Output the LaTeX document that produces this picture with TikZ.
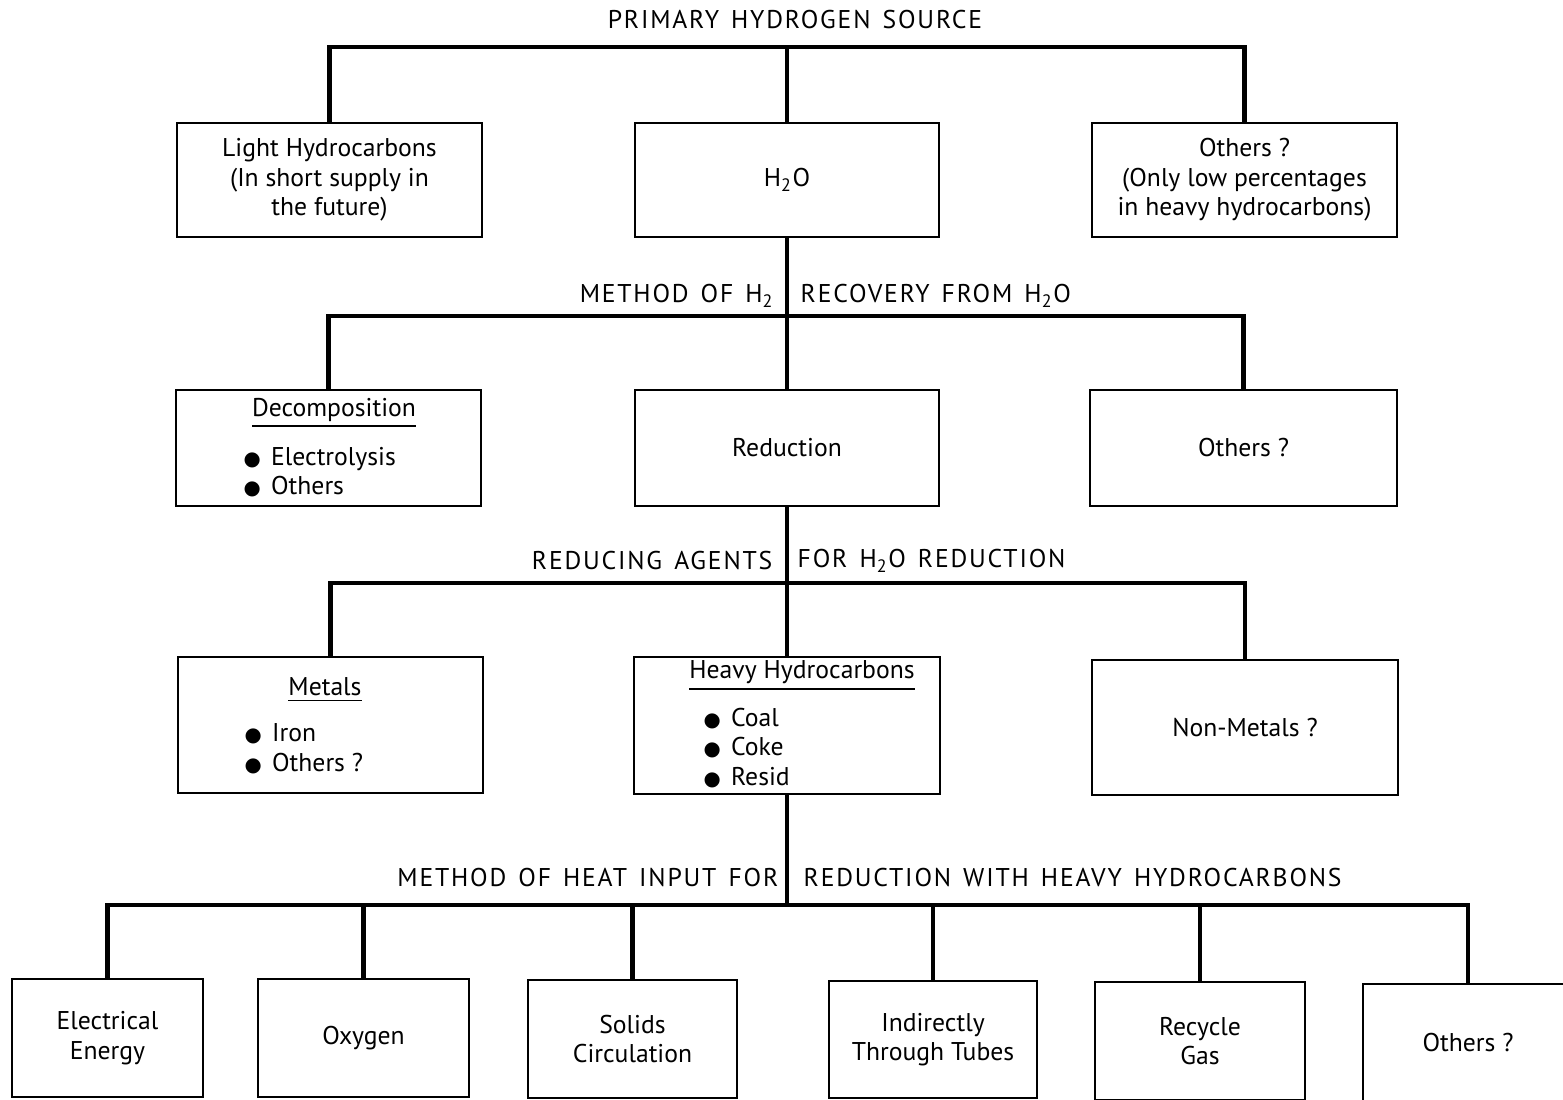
\documentclass[tikz,border=0pt]{standalone}
\usepackage{fontspec}
\setmainfont{PT Sans}
\newfontfamily\symfont{DejaVu Sans}
\newfontfamily\capfont[LetterSpace=7,WordSpace=1.4]{PT Sans}
\usetikzlibrary{positioning,calc}
\newcommand{\bul}{{\symfont\fontsize{5.6}{6}\selectfont ●}\hspace{0.4em}}
\newcommand{\hsub}{H\textsubscript{2}}

\begin{document}
\begin{tikzpicture}[
    x=0.01cm, y=-0.01cm,
    every node/.style={font=\fontsize{7.3}{8.4}\selectfont, inner sep=0pt},
    box/.style={draw, line width=0.6pt, align=center},
    bus/.style={line width=1.2pt},
    caption/.style={font=\capfont\fontsize{7.3}{8.4}\selectfont},
    items/.style={anchor=west, align=left}
]
    \clip (0,0) rectangle (1563,1100);

    % level 1
    \node[caption] (title) at (795,20) {PRIMARY HYDROGEN SOURCE};
    \node[box, minimum width=3.05cm, minimum height=1.14cm] (light) at (329.5,180) {Light Hydrocarbons\\(In short supply in\\the future)};
    \node[box, minimum width=3.03cm, minimum height=1.14cm] (h2o) at (787,180) {H\textsubscript{2}O};
    \node[box, minimum width=3.05cm, minimum height=1.14cm] (oth1) at (1244.5,180) {Others ?\\(Only low percentages\\in heavy hydrocarbons)};
    \coordinate (bus1) at (787,47);

    % level 2
    \node[caption, anchor=east] (rec-l) at (775,296) {METHOD OF \hsub};
    \node[caption, anchor=west] (rec-r) at (800,296) {RECOVERY FROM \hsub O};
    \node[box, minimum width=3.05cm, minimum height=1.16cm] (decomp) at (328.5,448) {};
    \node (decomp-h) at (334,413) {\underline{Decomposition}};
    \node[items] (decomp-i) at (243,472) {\bul Electrolysis\\\bul Others};
    \node[box, minimum width=3.04cm, minimum height=1.16cm] (reduct) at (787,448) {Reduction};
    \node[box, minimum width=3.07cm, minimum height=1.16cm] (oth2) at (1243.5,448) {Others ?};
    \coordinate (bus2) at (787,316);

    % level 3
    \node[caption, anchor=east] (agt-l) at (773,561) {REDUCING AGENTS};
    \node[caption, anchor=west] (agt-r) at (797,561) {FOR \hsub O REDUCTION};
    \node[box, minimum width=3.05cm, minimum height=1.36cm] (metals) at (330.5,725) {};
    \node (metals-h) at (325,690) {\underline{Metals}};
    \node[items] (metals-i) at (244,748.5) {\bul Iron\\\bul Others ?};
    \node[box, minimum width=3.05cm, minimum height=1.37cm] (heavy) at (787,725.5) {};
    \node (heavy-h) at (802,676) {\underline{Heavy Hydrocarbons}};
    \node[items] (heavy-i) at (703,748) {\bul Coal\\\bul Coke\\\bul Resid};
    \node[box, minimum width=3.06cm, minimum height=1.35cm] (nonmet) at (1245,727.5) {Non-Metals ?};
    \coordinate (bus3) at (787,583);

    % level 4
    \node[caption, anchor=east] (heat-l) at (779,878) {METHOD OF HEAT INPUT FOR};
    \node[caption, anchor=west] (heat-r) at (803,878) {REDUCTION WITH HEAVY HYDROCARBONS};
    \node[box, minimum width=1.91cm, minimum height=1.18cm] (elec) at (107.5,1038) {Electrical\\Energy};
    \node[box, minimum width=2.11cm, minimum height=1.18cm] (oxy) at (363.5,1038) {Oxygen};
    \node[box, minimum width=2.09cm, minimum height=1.18cm] (solids) at (632.5,1039) {Solids\\Circulation};
    \node[box, minimum width=2.08cm, minimum height=1.17cm] (indir) at (933,1039.5) {Indirectly\\Through Tubes};
    \node[box, minimum width=2.10cm, minimum height=1.18cm] (recyc) at (1200,1041) {Recycle\\Gas};
    \node[box, minimum width=2.10cm, minimum height=1.18cm] (oth4) at (1468,1043) {Others ?};
    \coordinate (bus4) at (787,905);

    % connectors
    \draw[bus] (light.north) |- (bus1) -| (oth1.north);
    \draw[bus] (bus1) -- (h2o.north);
    \draw[bus] (h2o.south) -- (reduct.north);
    \draw[bus] (decomp.north) |- (bus2) -| (oth2.north);
    \draw[bus] (reduct.south) -- (heavy.north);
    \draw[bus] (metals.north) |- (bus3) -| (nonmet.north);
    \draw[bus] (heavy.south) -- (bus4);
    \draw[bus] (elec.north) |- (bus4) -| (oth4.north);
    \draw[bus] (oxy.north) -- (oxy.north |- bus4);
    \draw[bus] (solids.north) -- (solids.north |- bus4);
    \draw[bus] (indir.north) -- (indir.north |- bus4);
    \draw[bus] (recyc.north) -- (recyc.north |- bus4);
\end{tikzpicture}
\end{document}
